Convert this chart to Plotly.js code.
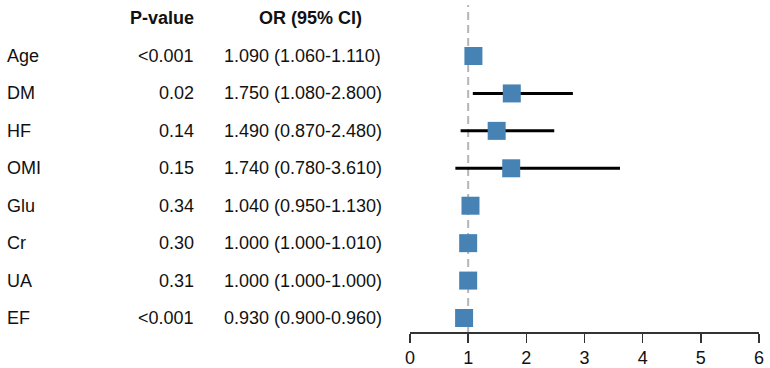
<!DOCTYPE html>
<html>
<head>
<meta charset="utf-8">
<script src="https://cdn.plot.ly/plotly-3.0.1.min.js"></script>
<style>html,body{margin:0;padding:0;background:#fff;}#chart{width:770px;height:368px;}</style>
</head>
<body>
<div id="chart"></div>
<script>
var variables = ["Age", "DM", "HF", "OMI", "Glu", "Cr", "UA", "EF"];
var pValues = ["<0.001", "0.02", "0.14", "0.15", "0.34", "0.30", "0.31", "<0.001"];
var orValue = [1.09, 1.75, 1.49, 1.74, 1.04, 1.00, 1.00, 0.93];
var ciLower = [1.06, 1.08, 0.87, 0.78, 0.95, 1.00, 1.00, 0.90];
var ciUpper = [1.11, 2.80, 2.48, 3.61, 1.13, 1.01, 1.00, 0.96];
var xTicks = [0, 1, 2, 3, 4, 5, 6];

function fmt(v) { return v.toFixed(3); }
var orText = orValue.map(function (v, i) {
  return fmt(v) + " (" + fmt(ciLower[i]) + "-" + fmt(ciUpper[i]) + ")";
});

var FONT = "Liberation Sans, Arial, sans-serif";

var trace = {
  type: "scatter",
  mode: "markers",
  x: orValue,
  y: variables,
  cliponaxis: false,
  marker: { symbol: "square", size: 18, color: "#4682b4", line: { width: 0 } },
  error_x: {
    type: "data",
    symmetric: false,
    array: orValue.map(function (v, i) { return ciUpper[i] - v; }),
    arrayminus: orValue.map(function (v, i) { return v - ciLower[i]; }),
    color: "#000000",
    thickness: 3,
    width: 0
  },
  hoverinfo: "skip"
};

var annotations = [];
var txtFont = { family: FONT, size: 18, color: "#111111" };
variables.forEach(function (v, i) {
  annotations.push({ xref: "paper", yref: "y", x: 0, y: v, text: v, showarrow: false,
    xanchor: "left", yanchor: "middle", xshift: -405, font: txtFont });
  annotations.push({ xref: "paper", yref: "y", x: 0, y: v, text: pValues[i].replace("<", "&lt;"), showarrow: false,
    xanchor: "right", yanchor: "middle", xshift: -214, font: txtFont });
  annotations.push({ xref: "paper", yref: "y", x: 0, y: v, text: orText[i], showarrow: false,
    xanchor: "left", yanchor: "middle", xshift: -188, font: txtFont });
});
var hdrFont = { family: FONT, size: 18, color: "#111111" };
annotations.push({ xref: "paper", yref: "paper", x: 0, y: 0.960, text: "<b>P-value</b>", showarrow: false,
  xanchor: "right", yanchor: "middle", xshift: -214, font: hdrFont });
annotations.push({ xref: "paper", yref: "paper", x: 0, y: 0.960, text: "<b>OR (95% CI)</b>", showarrow: false,
  xanchor: "center", yanchor: "middle", xshift: -100, font: hdrFont });

var layout = {
  width: 770,
  height: 368,
  margin: { l: 410, r: 11, t: 5, b: 36 },
  paper_bgcolor: "#ffffff",
  plot_bgcolor: "#ffffff",
  showlegend: false,
  font: { family: FONT, size: 18, color: "#111111" },
  xaxis: {
    range: [0, 6],
    tickvals: xTicks,
    ticktext: xTicks.map(String),
    showgrid: false,
    zeroline: false,
    showline: true,
    linecolor: "#333333",
    linewidth: 1.5,
    ticks: "outside",
    ticklen: 9,
    tickwidth: 1.5,
    tickcolor: "#333333",
    tickfont: { family: FONT, size: 18, color: "#111111" },
    fixedrange: true
  },
  yaxis: {
    type: "category",
    categoryorder: "array",
    categoryarray: variables.slice().reverse(),
    range: [-0.374, 8.363],
    showgrid: false,
    zeroline: false,
    showline: false,
    showticklabels: false,
    ticks: "",
    fixedrange: true
  },
  shapes: [{
    type: "line", xref: "x", yref: "paper", x0: 1, x1: 1, y0: 0, y1: 1,
    line: { color: "#b5b5b5", width: 2, dash: "8px,5px" }, layer: "below"
  }],
  annotations: annotations
};

Plotly.newPlot("chart", [trace], layout, { displayModeBar: false, staticPlot: true });
</script>
</body>
</html>
